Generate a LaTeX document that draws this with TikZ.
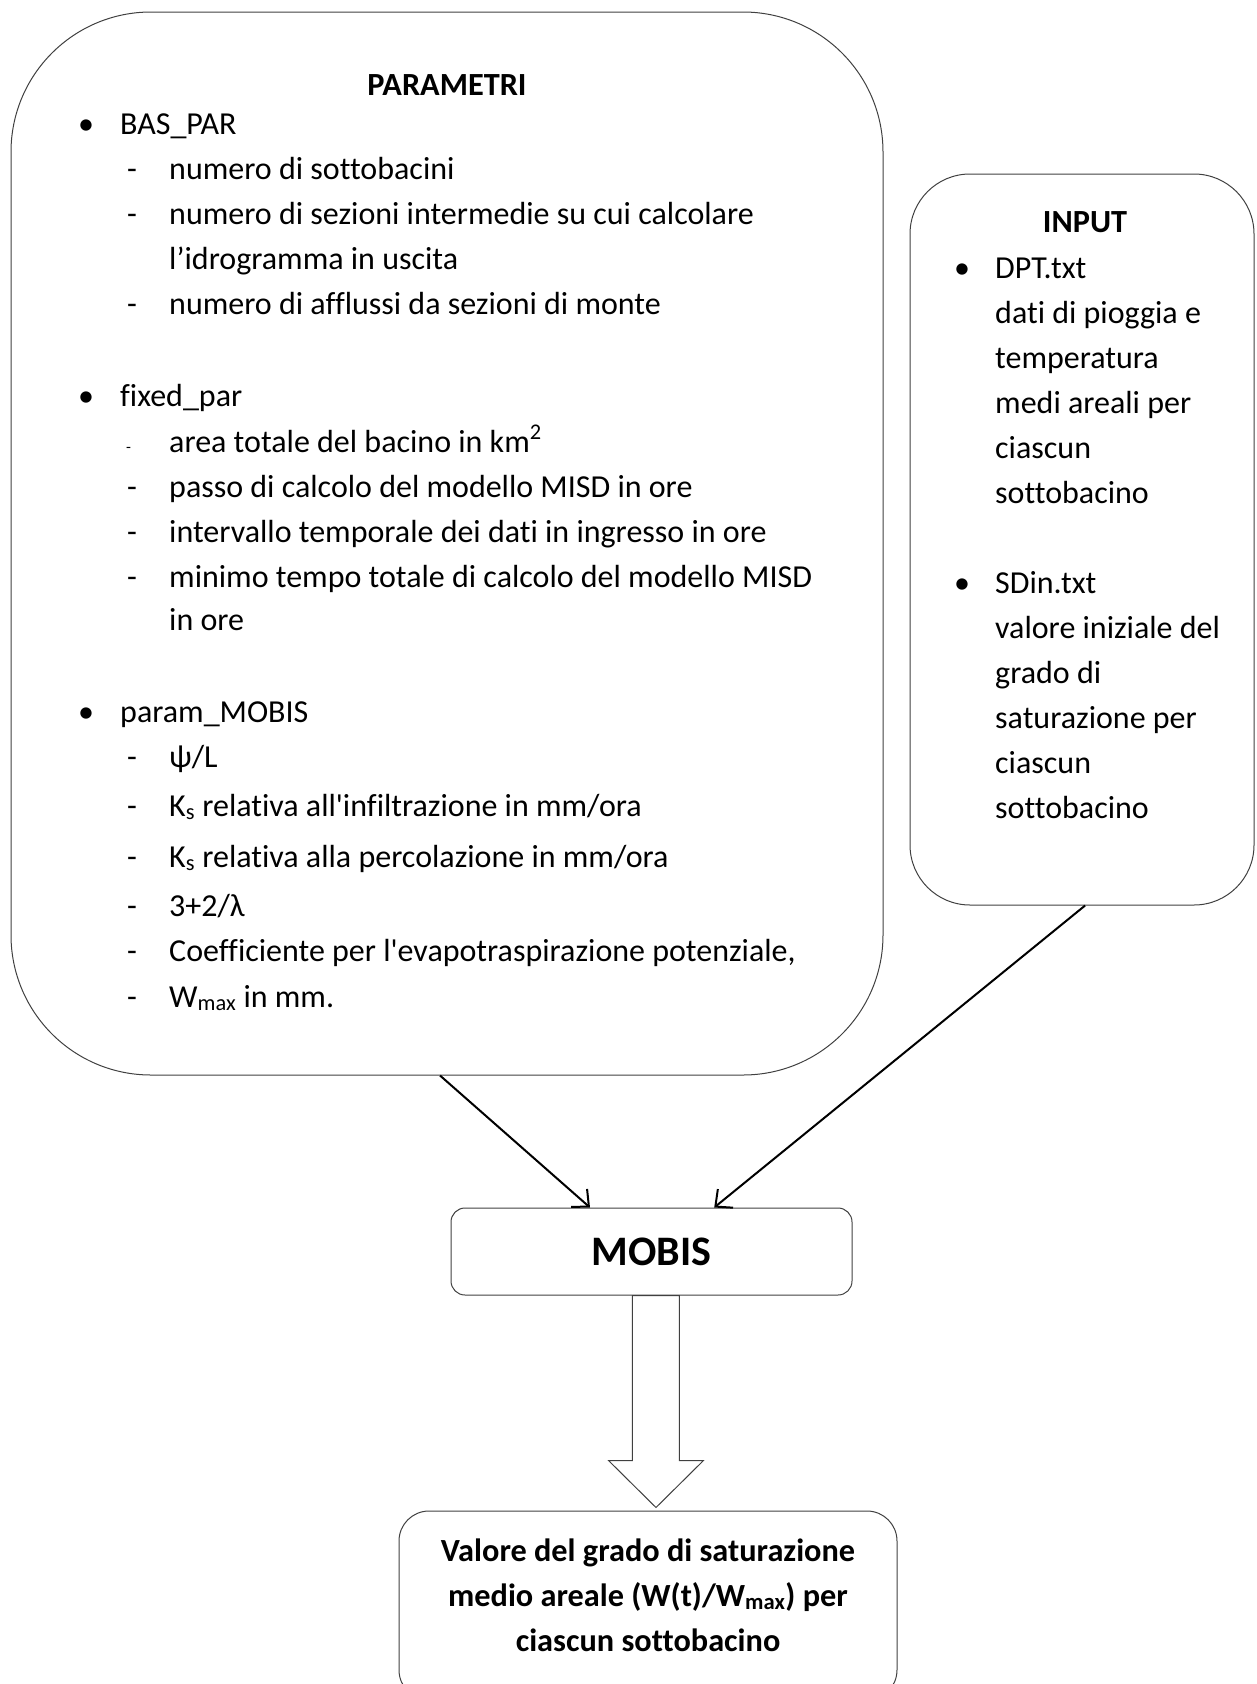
\documentclass[tikz,border=0pt]{standalone}
\usepackage{fontspec}
\newfontfamily\calib{Carlito}[Ligatures=NoCommon]
\usetikzlibrary{arrows.meta,calc}
\begin{document}
\begin{tikzpicture}[x=1pt,y=-1pt,
  box/.style={draw=black!75, line width=1pt, inner sep=0pt},
  txt/.style={font=\calib\fontsize{32}{38}\selectfont, inner sep=0pt, anchor=base west},
  ttl/.style={font=\calib\bfseries\fontsize{32.3}{38}\selectfont, inner sep=0pt, anchor=base},
  conn/.style={line width=2pt, -{Straight Barb[length=13pt,width=24pt]}},
  hollow/.style={draw=black!75, line width=1pt, fill=white, line join=miter},
]
\useasboundingbox (0,0) rectangle (1257,1684);
% boxes
\node[box, rounded corners=140pt, minimum width=872pt, minimum height=1063pt] (par) at (447,543.5) {};
\node[box, rounded corners=60pt, minimum width=344pt, minimum height=731pt] (inp) at (1082,539.5) {};
\node[box, rounded corners=14pt, minimum width=401pt, minimum height=87pt, font=\calib\bfseries\fontsize{42}{50}\selectfont] (mobis) at (651.5,1251.5) {MOBIS};
\node[box, rounded corners=30pt, minimum width=498pt, minimum height=189pt] (out) at (648,1605.5) {};
% PARAMETRI text
\node[ttl] (ptitle) at (447,95) {PARAMETRI};
\node[txt] (b1) at (78,134) {\textbullet};
\node[txt] (b1t) at (120,134) {BAS\_PAR};
\node[txt] (d11) at (127,179) {-};
\node[txt] (d11t) at (169,179) {numero di sottobacini};
\node[txt] (d12) at (127,224) {-};
\node[txt] (d12t) at (169,224) {numero di sezioni intermedie su cui calcolare};
\node[txt] (d12u) at (169,269) {l’idrogramma in uscita};
\node[txt] (d13) at (127,314) {-};
\node[txt] (d13t) at (169,314) {numero di afflussi da sezioni di monte};
\node[txt] (b2) at (78,406) {\textbullet};
\node[txt] (b2t) at (120,406) {fixed\_par};
\node[txt, font=\calib\fontsize{16}{18}\selectfont] (d21) at (126,452) {-};
\node[txt] (d21t) at (169,452) {area totale del bacino in km\raisebox{3pt}{\textsuperscript{2}}};
\node[txt] (d22) at (127,497) {-};
\node[txt] (d22t) at (169,497) {passo di calcolo del modello MISD in ore};
\node[txt] (d23) at (127,542) {-};
\node[txt] (d23t) at (169,542) {intervallo temporale dei dati in ingresso in ore};
\node[txt] (d24) at (127,587) {-};
\node[txt] (d24t) at (169,587) {minimo tempo totale di calcolo del modello MISD};
\node[txt] (d24u) at (169,630) {in ore};
\node[txt] (b3) at (78,722) {\textbullet};
\node[txt] (b3t) at (120,722) {param\_MOBIS};
\node[txt] (d31) at (127,767) {-};
\node[txt] (d31t) at (169,767) {ψ/L};
\node[txt] (d32) at (127,816) {-};
\node[txt] (d32t) at (169,816) {K\textsubscript{s} relativa all'infiltrazione in mm/ora};
\node[txt] (d33) at (127,867) {-};
\node[txt] (d33t) at (169,867) {K\textsubscript{s} relativa alla percolazione in mm/ora};
\node[txt] (d34) at (127,916) {-};
\node[txt] (d34t) at (169,916) {3+2/λ};
\node[txt] (d35) at (127,961) {-};
\node[txt] (d35t) at (169,961) {Coefficiente per l'evapotraspirazione potenziale,};
\node[txt] (d36) at (127,1007) {-};
\node[txt] (d36t) at (169,1007) {W\textsubscript{max} in mm.};
% INPUT text
\node[ttl] (ititle) at (1085,232) {INPUT};
\node[txt] (i1) at (954,278) {\textbullet};
\node[txt] (i1a) at (995,278) {DPT.txt};
\node[txt] (i1b) at (995,323) {dati di pioggia e};
\node[txt] (i1c) at (995,368) {temperatura};
\node[txt] (i1d) at (995,413) {medi areali per};
\node[txt] (i1e) at (995,458) {ciascun};
\node[txt] (i1f) at (995,503) {sottobacino};
\node[txt] (i2) at (954,593) {\textbullet};
\node[txt] (i2a) at (995,593) {SDin.txt};
\node[txt] (i2b) at (995,638) {valore iniziale del};
\node[txt] (i2c) at (995,683) {grado di};
\node[txt] (i2d) at (995,728) {saturazione per};
\node[txt] (i2e) at (995,773) {ciascun};
\node[txt] (i2f) at (995,818) {sottobacino};
% output text
\node[ttl] (o1) at (648,1561) {Valore del grado di saturazione};
\node[ttl] (o2) at (648,1606) {medio areale (W(t)/W\textsubscript{max}) per};
\node[ttl] (o3) at (648,1651) {ciascun sottobacino};
% connectors
\draw[conn] ($(par.south west)!0.492!(par.south east)$) -- ($(mobis.north west)!0.347!(mobis.north east)$);
\draw[conn] ($(inp.south west)!0.509!(inp.south east)$) -- ($(mobis.north west)!0.656!(mobis.north east)$);
% hollow block arrow
\coordinate (ha) at ($(mobis.south west)!0.511!(mobis.south east)$);
\coordinate (hb) at ($(out.north west)!0.516!(out.north east)$);
\draw[hollow] ($(ha)+(-23.5,0)$) -- ($(ha)+(23.5,0)$) -- ($(hb)+(23.5,-50)$) -- ($(hb)+(47.5,-50)$) -- ($(hb)+(0,-3)$) -- ($(hb)+(-47.5,-50)$) -- ($(hb)+(-23.5,-50)$) -- cycle;
\end{tikzpicture}
\end{document}
